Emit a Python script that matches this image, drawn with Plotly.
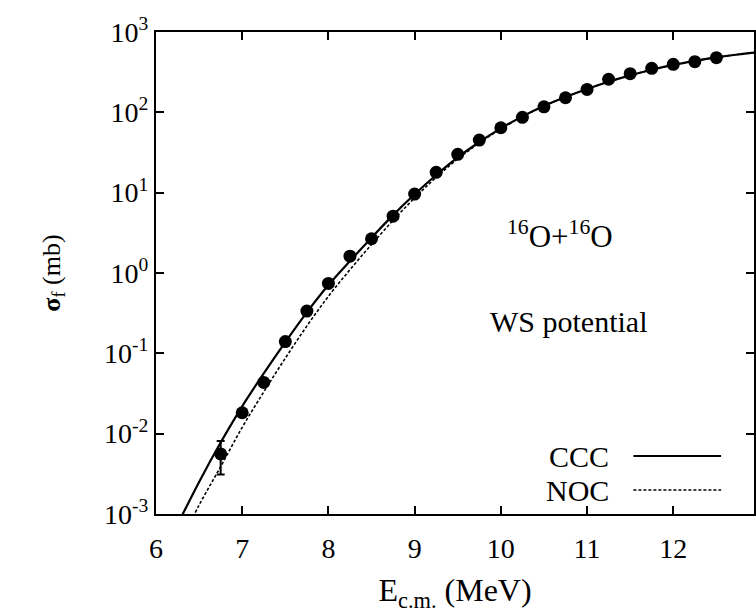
import plotly.graph_objects as go

# Measured fusion cross sections, 16O+16O
e_exp = [6.75, 7.0, 7.25, 7.5, 7.75, 8.0, 8.25, 8.5, 8.75, 9.0, 9.25, 9.5,
         9.75, 10.0, 10.25, 10.5, 10.75, 11.0, 11.25, 11.5, 11.75, 12.0, 12.25, 12.5]
sigma_exp = [0.0056, 0.0182, 0.0434, 0.14, 0.336, 0.742, 1.62, 2.67, 5.1, 9.6, 17.9, 30.0,
             45.2, 64.3, 86.7, 117, 152, 193, 258, 303, 353, 396, 427, 479]
sigma_err = [0.0025] + [0.0] * 23

# Calculated curves (mb)
e_calc = [6.25, 6.5, 6.75, 7.0, 7.25, 7.5, 7.75, 8.0, 8.25, 8.5, 8.75, 9.0, 9.25, 9.5,
          9.75, 10.0, 10.25, 10.5, 10.75, 11.0, 11.25, 11.5, 11.75, 12.0, 12.25, 12.5,
          12.75, 13.0]
sigma_ccc = [0.00074, 0.00251, 0.00776, 0.0219, 0.0562, 0.138, 0.324, 0.708, 1.41, 2.75,
             5.25, 9.55, 16.6, 27.5, 42.7, 63.1, 89.1, 120, 155, 195, 240, 288, 339, 389,
             437, 484, 525, 562]
sigma_noc = [0.000372, 0.00129, 0.00389, 0.0120, 0.0331, 0.0871, 0.219, 0.513, 1.10, 2.26,
             4.52, 8.61, 15.5, 26.3, 41.5, 62.2, 88.5, 120, 155, 195, 240, 288, 339, 389,
             437, 484, 525, 562]

x_ticks = [6, 7, 8, 9, 10, 11, 12, 13]
y_ticks = [1e-3, 1e-2, 1e-1, 1e0, 1e1, 1e2, 1e3]
y_tick_text = ["10<sup>-3</sup>", "10<sup>-2</sup>", "10<sup>-1</sup>", "10<sup>0</sup>",
               "10<sup>1</sup>", "10<sup>2</sup>", "10<sup>3</sup>"]

FONT = "Liberation Serif"

W, H = 756, 615
L, T, B = 156, 32, 101
PW, PH = W - L, H - T - B


def px_x(p):
    return (p - L) / PW


def px_y(p):
    return 1 - (p - T) / PH


fig = go.Figure()
fig.add_trace(go.Scatter(x=e_calc, y=sigma_noc, mode="lines", name="NOC",
                         line=dict(color="black", width=1.6, dash="3px,2px", shape="spline")))
fig.add_trace(go.Scatter(x=e_calc, y=sigma_ccc, mode="lines", name="CCC",
                         line=dict(color="black", width=2.2, shape="spline")))
fig.add_trace(go.Scatter(x=e_exp, y=sigma_exp, mode="markers", name="exp",
                         marker=dict(color="black", size=13),
                         error_y=dict(type="data", array=sigma_err, color="black",
                                      thickness=2, width=4)))

# gnuplot-style key: label on the left, line sample on the right
for label, yy in (("CCC", 456), ("NOC", 490)):
    fig.add_annotation(x=px_x(613), y=px_y(yy), xref="paper", yref="paper", text=label,
                       showarrow=False, xanchor="right", yanchor="middle",
                       font=dict(family=FONT, size=30, color="black"))
fig.add_shape(type="line", xref="paper", yref="paper", x0=px_x(635), x1=px_x(723),
              y0=px_y(456), y1=px_y(456), line=dict(color="black", width=2.2))
fig.add_shape(type="line", xref="paper", yref="paper", x0=px_x(635), x1=px_x(723),
              y0=px_y(490), y1=px_y(490), line=dict(color="black", width=1.6, dash="3px,2px"))

fig.add_annotation(x=10.69, y=0.48, xref="x", yref="y",
                   text="<sup>16</sup>O+<sup>16</sup>O", showarrow=False,
                   font=dict(family=FONT, size=31, color="black"))
fig.add_annotation(x=10.78, y=-0.6, xref="x", yref="y", text="WS potential",
                   showarrow=False, font=dict(family=FONT, size=30, color="black"))

axis_common = dict(showline=True, linecolor="black", linewidth=2, mirror="ticks",
                   ticks="inside", ticklen=8, tickwidth=2, tickcolor="black",
                   showgrid=False, zeroline=False,
                   tickfont=dict(family=FONT, size=28, color="black"))

fig.update_xaxes(range=[6, 6 + PW / 86.5], tickvals=x_ticks, ticktext=[str(v) for v in x_ticks],
                 ticklabelstandoff=8,
                 title=dict(text="E<sub>c.m.</sub> (MeV)", standoff=16,
                            font=dict(family=FONT, size=32, color="black")),
                 **axis_common)
fig.update_yaxes(type="log", range=[-3, 3], tickvals=y_ticks, ticktext=y_tick_text,
                 ticksuffix="\u2005",
                 title=dict(text="<b>σ</b><sub>f</sub> (mb)", standoff=36,
                            font=dict(family=FONT, size=26, color="black")),
                 **axis_common)

fig.update_layout(width=W, height=H, margin=dict(l=L, r=0, t=T, b=B, pad=0),
                  plot_bgcolor="white", paper_bgcolor="white", showlegend=False,
                  font=dict(family=FONT, color="black"))

fig.write_html("out.html")
